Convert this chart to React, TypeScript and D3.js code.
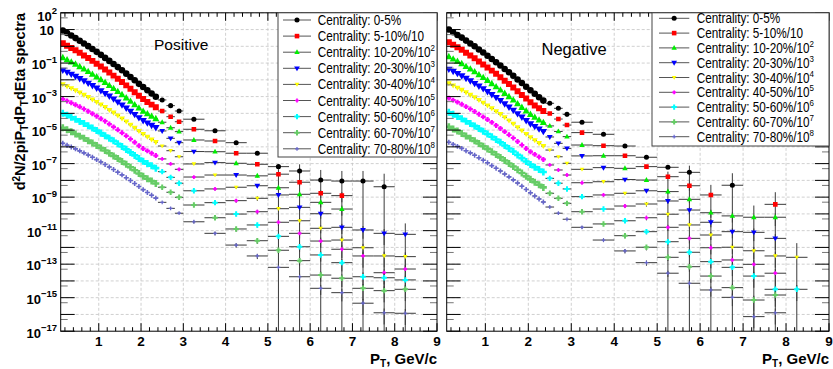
import React from 'react';
import * as d3 from 'd3';

// ---------- data (values stored as log10 of the spectrum) ----------
const ptDense = [0.15, 0.25, 0.35, 0.45, 0.55, 0.65, 0.75, 0.85, 0.95, 1.05, 1.15, 1.25, 1.35, 1.45, 1.55, 1.65, 1.75, 1.85, 1.95, 2.05, 2.15, 2.25, 2.35];
const ptMid = [2.5, 2.7, 2.9];
const ptHigh = [3.25, 3.75, 4.25, 4.75, 5.25, 5.75, 6.25, 6.75, 7.25, 7.75, 8.25];
const binHalfWidth = { dense: 0.05, mid: 0.1, high: 0.25 };

const centralityLabels = ['0-5%', '5-10%/10', '10-20%/10', '20-30%/10', '30-40%/10', '40-50%/10', '50-60%/10', '60-70%/10', '70-80%/10'];
const centralityScaleExp = ['', '', '2', '3', '4', '5', '6', '7', '8'];
const seriesColors = ['#000000', '#ff0000', '#00ee00', '#0000ff', '#ffff00', '#ff00ff', '#00ffff', '#66cc66', '#6666cc'];
const seriesMarkers = ['circle', 'square', 'triUp', 'triDown', 'triDownSmall', 'crossSmall', 'cross', 'cross', 'plusSmall'];

const posDense = [
  [0.94, 0.79, 0.64, 0.49, 0.33, 0.17, 0.01, -0.16, -0.33, -0.51, -0.69, -0.87, -1.05, -1.24, -1.43, -1.63, -1.83, -2.03, -2.24, -2.43, -2.62, -2.82, -3.01],
  [0.18, 0.04, -0.10, -0.24, -0.39, -0.55, -0.70, -0.87, -1.04, -1.21, -1.38, -1.56, -1.75, -1.94, -2.13, -2.33, -2.53, -2.74, -2.95, -3.15, -3.32, -3.48, -3.63],
  [-0.68, -0.81, -0.94, -1.07, -1.22, -1.36, -1.51, -1.67, -1.83, -1.99, -2.16, -2.34, -2.52, -2.70, -2.89, -3.08, -3.28, -3.49, -3.69, -3.88, -4.03, -4.18, -4.32],
  [-1.42, -1.54, -1.66, -1.79, -1.92, -2.06, -2.20, -2.34, -2.49, -2.65, -2.81, -2.97, -3.14, -3.32, -3.50, -3.68, -3.87, -4.06, -4.26, -4.43, -4.57, -4.71, -4.85],
  [-2.27, -2.39, -2.51, -2.63, -2.76, -2.90, -3.03, -3.18, -3.33, -3.48, -3.63, -3.80, -3.96, -4.13, -4.31, -4.49, -4.68, -4.87, -5.06, -5.24, -5.40, -5.56, -5.72],
  [-3.15, -3.26, -3.37, -3.49, -3.61, -3.74, -3.88, -4.02, -4.17, -4.32, -4.47, -4.64, -4.81, -4.98, -5.16, -5.34, -5.53, -5.73, -5.93, -6.10, -6.24, -6.38, -6.52],
  [-4.00, -4.11, -4.23, -4.35, -4.48, -4.61, -4.74, -4.88, -5.03, -5.18, -5.33, -5.48, -5.64, -5.81, -5.98, -6.15, -6.33, -6.51, -6.70, -6.86, -7.00, -7.13, -7.27],
  [-4.86, -4.98, -5.10, -5.23, -5.36, -5.49, -5.63, -5.77, -5.92, -6.07, -6.22, -6.38, -6.54, -6.70, -6.87, -7.04, -7.22, -7.40, -7.59, -7.75, -7.90, -8.04, -8.19],
  [-5.79, -5.90, -6.01, -6.12, -6.24, -6.36, -6.49, -6.62, -6.76, -6.90, -7.05, -7.20, -7.35, -7.51, -7.67, -7.84, -8.01, -8.19, -8.37, -8.55, -8.72, -8.89, -9.06],
];
const posMid = [
  [-3.20, -3.54, -3.86], [-3.86, -4.20, -4.50], [-4.53, -4.86, -5.09], [-5.05, -5.49, -5.75], [-5.95, -6.23, -6.59],
  [-6.72, -7.02, -7.34], [-7.48, -7.82, -8.17], [-8.41, -8.71, -9.01], [-9.31, -9.67, -9.96],
];
const posHigh = [
  [-4.35, -5.04, -5.75, -6.38, -7.18, -7.44, -7.98, -8.04, -8.04, -8.38, null],
  [-4.95, -5.65, -6.38, -7.04, -7.63, -8.11, -8.77, -8.91, null, null, null],
  [-5.59, -6.29, -6.98, -7.73, -8.44, -8.83, -9.31, -9.71, null, null, null],
  [-6.28, -6.94, -7.68, -8.32, -8.87, -9.61, -9.99, -10.80, -10.96, -11.16, -11.22],
  [-7.02, -7.68, -8.41, -9.07, -9.69, -10.41, -10.86, -11.56, -12.02, -12.51, -12.55],
  [-7.80, -8.51, -9.21, -9.87, -10.50, -11.16, -11.62, -12.11, -12.51, -13.51, -13.29],
  [-8.62, -9.33, -10.01, -10.66, -11.34, -11.96, -12.45, -12.91, -13.75, -13.81, -13.94],
  [-9.47, -10.23, -10.90, -11.60, -12.17, -12.79, -13.65, -13.84, -14.44, -14.58, -14.50],
  [-10.47, -11.16, -11.86, -12.51, -13.19, -13.75, -14.44, -14.70, -15.33, -15.90, -15.93],
];
const posHighRelErr = [
  [0.1, 0.1, 0.1, 0.15, 0.2, 1.5, 3, 3, 3, 5, 0],
  [0.1, 0.1, 0.15, 0.2, 1, 0.4, 0.5, 0.6, 0, 0, 0],
  [0.1, 0.1, 0.15, 0.2, 0.3, 0.4, 0.5, 0.6, 0, 0, 0],
  [0.1, 0.15, 0.2, 0.25, 0.3, 0.4, 0.5, 0.6, 0.7, 0.8, 3.5],
  [0.1, 0.15, 0.2, 0.3, 0.3, 0.4, 0.5, 0.6, 0.7, 0.8, 0.8],
  [0.15, 0.2, 0.25, 0.3, 0.4, 0.5, 0.6, 0.7, 0.8, 0.8, 0.8],
  [0.15, 0.2, 0.25, 0.3, 0.4, 0.5, 0.6, 0.7, 0.8, 0.8, 0.8],
  [0.2, 0.25, 0.3, 0.35, 0.4, 0.5, 0.6, 0.7, 0.8, 0.8, 0.8],
  [0.2, 0.25, 0.3, 0.35, 0.4, 0.5, 0.6, 0.7, 0.8, 0.8, 0.8],
];

const negDense = [
  [1.00, 0.84, 0.68, 0.52, 0.34, 0.17, 0.00, -0.19, -0.37, -0.56, -0.76, -0.95, -1.14, -1.35, -1.55, -1.76, -1.98, -2.19, -2.41, -2.62, -2.83, -3.04, -3.24],
  [0.24, 0.09, -0.06, -0.21, -0.38, -0.55, -0.71, -0.90, -1.08, -1.26, -1.45, -1.64, -1.84, -2.05, -2.25, -2.46, -2.68, -2.90, -3.12, -3.34, -3.53, -3.70, -3.86],
  [-0.62, -0.76, -0.90, -1.04, -1.21, -1.36, -1.52, -1.70, -1.87, -2.04, -2.23, -2.42, -2.61, -2.81, -3.01, -3.21, -3.43, -3.65, -3.86, -4.07, -4.24, -4.40, -4.55],
  [-1.36, -1.49, -1.62, -1.76, -1.91, -2.06, -2.21, -2.37, -2.53, -2.70, -2.88, -3.05, -3.23, -3.43, -3.62, -3.81, -4.02, -4.22, -4.43, -4.62, -4.78, -4.93, -5.08],
  [-2.21, -2.34, -2.47, -2.60, -2.75, -2.90, -3.04, -3.21, -3.37, -3.53, -3.70, -3.88, -4.05, -4.24, -4.43, -4.62, -4.83, -5.03, -5.23, -5.43, -5.61, -5.78, -5.95],
  [-3.09, -3.21, -3.33, -3.46, -3.60, -3.74, -3.89, -4.05, -4.21, -4.37, -4.54, -4.72, -4.90, -5.09, -5.28, -5.47, -5.68, -5.89, -6.10, -6.29, -6.45, -6.60, -6.75],
  [-3.94, -4.06, -4.19, -4.32, -4.47, -4.61, -4.75, -4.91, -5.07, -5.23, -5.40, -5.56, -5.73, -5.92, -6.10, -6.28, -6.48, -6.67, -6.87, -7.05, -7.21, -7.35, -7.50],
  [-4.80, -4.93, -5.06, -5.20, -5.35, -5.49, -5.64, -5.80, -5.96, -6.12, -6.29, -6.46, -6.63, -6.81, -6.99, -7.17, -7.37, -7.56, -7.76, -7.94, -8.11, -8.26, -8.42],
  [-5.73, -5.85, -5.97, -6.09, -6.23, -6.36, -6.50, -6.65, -6.80, -6.95, -7.12, -7.28, -7.44, -7.62, -7.79, -7.97, -8.16, -8.35, -8.54, -8.74, -8.93, -9.11, -9.29],
];
const negMid = [
  [-3.40, -3.70, -4.06], [-4.01, -4.34, -4.70], [-4.75, -5.08, -5.39], [-5.41, -5.79, -6.09], [-6.19, -6.59, -6.98],
  [-7.08, -7.38, -7.68], [-7.88, -8.17, -8.51], [-8.77, -9.07, -9.37], [-9.59, -9.96, -10.32],
];
const negHigh = [
  [-4.53, -5.25, -5.95, -6.62, -7.22, -7.52, null, -8.29, null, null, null],
  [-5.15, -5.93, -6.53, -7.18, -7.78, -8.32, -8.87, null, null, -9.43, null],
  [-5.89, -6.53, -7.28, -7.98, -8.67, -9.13, -9.93, -10.12, -10.20, -10.20, null],
  [-6.54, -7.24, -7.95, -8.62, -9.23, -9.77, -10.50, -11.06, -11.10, -11.46, null],
  [-7.34, -8.08, -8.77, -9.41, -10.02, -10.66, -11.26, -11.99, -12.20, -12.51, -12.59],
  [-8.14, -8.87, -9.53, -10.23, -10.80, -11.46, -12.02, -12.75, -13.01, -13.54, null],
  [-8.97, -9.71, -10.41, -11.06, -11.66, -12.29, -12.85, -13.19, -13.71, -14.50, -14.50],
  [-9.87, -10.60, -11.30, -11.99, -12.59, -13.15, -13.71, -14.40, -15.14, -14.84, null],
  [-10.80, -11.56, -12.21, -12.91, -13.54, -14.14, -14.54, -14.98, -16.13, -15.90, null],
];
const negHighRelErr = [
  [0.1, 0.1, 0.1, 0.15, 0.2, 1.5, 0, 4.2, 0, 0, 0],
  [0.1, 0.1, 0.15, 0.2, 1, 0.5, 3, 0, 0, 4.3, 0],
  [0.1, 0.1, 0.15, 0.2, 0.3, 0.4, 0.5, 0.6, 4, 0.7, 0],
  [0.1, 0.15, 0.2, 0.25, 0.3, 0.4, 0.5, 0.6, 0.7, 0.8, 0],
  [0.1, 0.15, 0.2, 0.3, 0.3, 0.4, 0.5, 0.6, 0.7, 0.8, 6],
  [0.15, 0.2, 0.25, 0.3, 0.4, 0.5, 0.6, 0.7, 0.8, 0.8, 0],
  [0.15, 0.2, 0.25, 0.3, 0.4, 0.5, 0.6, 0.7, 0.8, 0.8, 0.8],
  [0.2, 0.25, 0.3, 0.35, 0.4, 0.5, 0.6, 0.7, 0.8, 0.8, 0],
  [0.2, 0.25, 0.3, 0.35, 0.4, 0.5, 0.6, 0.7, 0.8, 0.8, 0],
];
const midRelErr = 0.05;

const xTickValues = [1, 2, 3, 4, 5, 6, 7, 8, 9];
const yLabelExponents = [2, 1, -1, -3, -5, -7, -9, -11, -13, -15, -17];

// ---------- layout ----------
const W = 833;
const H = 369;
const Y_TOP = 12.8;
const Y_BOTTOM = 331.2;
const FONT = '"Liberation Sans", Arial, Helvetica, sans-serif';

const yScale = d3.scaleLog().domain([1e-17, 1e2]).range([Y_BOTTOM, Y_TOP]);

type Pt = { pt: number; lv: number; ex: number; r: number; dense: boolean };

function buildSeries(dense: number[][], mid: number[][], high: (number | null)[][], relErr: number[][], i: number): Pt[] {
  const out: Pt[] = [];
  ptDense.forEach((pt, j) => out.push({ pt, lv: dense[i][j], ex: binHalfWidth.dense, r: 0, dense: true }));
  ptMid.forEach((pt, j) => out.push({ pt, lv: mid[i][j], ex: binHalfWidth.mid, r: midRelErr, dense: false }));
  ptHigh.forEach((pt, j) => {
    const v = high[i][j];
    if (v !== null && v !== undefined) out.push({ pt, lv: v, ex: binHalfWidth.high, r: relErr[i][j], dense: false });
  });
  return out;
}

const crossPath = (s: number, t: number) => {
  const a = s / 2, b = t / 2;
  return `M${-a},${-b}H${-b}V${-a}H${b}V${-b}H${a}V${b}H${b}V${a}H${-b}V${b}H${-a}Z`;
};
const markerPaths: Record<string, string> = {
  circle: d3.symbol().type(d3.symbolCircle).size(20)() as string,
  square: d3.symbol().type(d3.symbolSquare).size(21)() as string,
  triUp: 'M0,-3L2.7,1.9L-2.7,1.9Z',
  triDown: 'M0,3L2.9,-1.9L-2.9,-1.9Z',
  triDownSmall: 'M0,2.3L2.3,-1.6L-2.3,-1.6Z',
  crossSmall: crossPath(3.8, 1.7),
  cross: crossPath(5.4, 2.0),
  plusSmall: crossPath(3.8, 1.2),
};

const ERR_COLOR = '#3a3a3a';

function Panel(props: {
  id: string; left: number; right: number;
  dense: number[][]; mid: number[][]; high: (number | null)[][]; relErr: number[][];
  title: string; titleX: number; titleY: number; titleSize: number;
  legend: { x0: number; y1: number; rowY0: number; rowStep: number; lineX0: number; lineX1: number; textX: number };
  showYLabels: boolean;
}) {
  const { id, left, right, legend } = props;
  const x = d3.scaleLinear().domain([0.1, 9]).range([left, right]);
  const decades = d3.range(-17, 3);
  const minorX = d3.range(2, 90, 2).map((v) => v / 10).filter((v) => v % 1 !== 0);
  const series = seriesColors.map((_, i) => buildSeries(props.dense, props.mid, props.high, props.relErr, i));

  return (
    <g>
      <defs>
        <clipPath id={`clip-${id}`}>
          <rect x={left} y={Y_TOP} width={right - left} height={Y_BOTTOM - Y_TOP} />
        </clipPath>
      </defs>
      <rect x={left} y={Y_TOP} width={right - left} height={Y_BOTTOM - Y_TOP} fill="#fff" />
      {/* grid */}
      <g stroke="#c4c4c4" strokeWidth={0.8} strokeDasharray="3,2">
        {xTickValues.slice(0, 8).map((t) => (
          <line key={`gx${t}`} x1={x(t)} x2={x(t)} y1={Y_TOP} y2={Y_BOTTOM} />
        ))}
        {decades.slice(1).map((e) => (
          <line key={`gy${e}`} x1={left} x2={right} y1={yScale(10 ** e)} y2={yScale(10 ** e)} />
        ))}
      </g>
      {/* data */}
      <g clipPath={`url(#clip-${id})`}>
        {series.map((pts, i) => (
          <g key={`s${i}`}>
            <g stroke={ERR_COLOR} strokeWidth={1}>
              {pts.map((p, j) => {
                const v = 10 ** p.lv;
                const cy = yScale(v);
                const els = [
                  <line key={`h${j}`} x1={x(p.pt - p.ex)} x2={x(p.pt + p.ex)} y1={cy} y2={cy} />,
                ];
                if (p.r > 0) {
                  const yUp = yScale(v * (1 + p.r));
                  const yLo = p.r >= 1 ? Y_BOTTOM : yScale(v * (1 - p.r));
                  els.push(<line key={`v${j}`} x1={x(p.pt)} x2={x(p.pt)} y1={yUp} y2={yLo} />);
                }
                return els;
              })}
            </g>
            <g fill={seriesColors[i]}>
              {pts.map((p, j) => (
                <path
                  key={`m${j}`}
                  d={markerPaths[seriesMarkers[i]]}
                  transform={`translate(${x(p.pt)},${yScale(10 ** p.lv)})${p.dense ? ' scale(1.3)' : ''}`}
                />
              ))}
            </g>
          </g>
        ))}
      </g>
      {/* ticks */}
      <g stroke="#000" strokeWidth={1}>
        {xTickValues.map((t) => (
          <g key={`tx${t}`}>
            <line x1={x(t)} x2={x(t)} y1={Y_BOTTOM} y2={Y_BOTTOM - 8} />
            <line x1={x(t)} x2={x(t)} y1={Y_TOP} y2={Y_TOP + 8} />
          </g>
        ))}
        {minorX.map((t) => (
          <g key={`mx${t}`}>
            <line x1={x(t)} x2={x(t)} y1={Y_BOTTOM} y2={Y_BOTTOM - 4} />
            <line x1={x(t)} x2={x(t)} y1={Y_TOP} y2={Y_TOP + 4} />
          </g>
        ))}
        {decades.map((e) => (
          <g key={`ty${e}`}>
            <line x1={left} x2={left + 14} y1={yScale(10 ** e)} y2={yScale(10 ** e)} />
            <line x1={right} x2={right - 14} y1={yScale(10 ** e)} y2={yScale(10 ** e)} />
          </g>
        ))}
        {decades.slice(1).map((e) => (
          <g key={`my${e}`} stroke="#777">
            <line x1={left} x2={left + 7} y1={yScale(5 * 10 ** (e - 1))} y2={yScale(5 * 10 ** (e - 1))} />
            <line x1={right} x2={right - 7} y1={yScale(5 * 10 ** (e - 1))} y2={yScale(5 * 10 ** (e - 1))} />
          </g>
        ))}
      </g>
      <rect x={left} y={Y_TOP} width={right - left} height={Y_BOTTOM - Y_TOP} fill="none" stroke="#000" strokeWidth={1} />
      {/* x tick labels */}
      <g fontFamily={FONT} fontSize={13.5} fontWeight="bold" textAnchor="middle" fill="#000">
        {xTickValues.map((t) => (
          <text key={`lx${t}`} x={x(t)} y={346}>{t}</text>
        ))}
      </g>
      {/* y tick labels */}
      {props.showYLabels && (
        <g fontFamily={FONT} fontSize={13} fontWeight="bold" textAnchor="end" fill="#000">
          {yLabelExponents.map((e) => {
            const ty = yScale(10 ** e);
            if (e === 1) return <text key={`ly${e}`} x={54} y={ty + 5.8}>10</text>;
            const base = e === 2 ? ty + 8 : ty + 6.3;
            return (
              <text key={`ly${e}`} x={57} y={base}>
                10<tspan dy={-6.5} fontSize={9.5}>{e < 0 ? `\u2212${-e}` : `${e}`}</tspan>
              </text>
            );
          })}
        </g>
      )}
      {/* x axis title */}
      <text x={right} y={364} textAnchor="end" fontFamily={FONT} fontWeight="bold" fontSize={15} fill="#000">
        P<tspan dy={3} fontSize={10}>T</tspan><tspan dy={-3}>, GeV/c</tspan>
      </text>
      {/* panel title */}
      <text x={props.titleX} y={props.titleY} fontFamily={FONT} fontSize={props.titleSize} fill="#000">{props.title}</text>
      {/* legend */}
      <rect x={legend.x0} y={Y_TOP} width={right - legend.x0} height={legend.y1 - Y_TOP} fill="#fff" stroke="#444" strokeWidth={1} />
      {centralityLabels.map((lab, i) => {
        const cy = legend.rowY0 + i * legend.rowStep;
        return (
          <g key={`lg${i}`}>
            <line x1={legend.lineX0} x2={legend.lineX1} y1={cy} y2={cy} stroke="#555" strokeWidth={1} />
            <path d={markerPaths[seriesMarkers[i]]} fill={seriesColors[i]} transform={`translate(${(legend.lineX0 + legend.lineX1) / 2},${cy})`} />
            <g transform={`translate(${legend.textX},${cy + 5}) scale(0.84,1)`}>
              <text x={0} y={0} fontFamily={FONT} fontSize={14} fill="#000">
                {`Centrality: ${lab}`}
                {centralityScaleExp[i] && <tspan dy={-6} fontSize={9.5}>{centralityScaleExp[i]}</tspan>}
              </text>
            </g>
          </g>
        );
      })}
    </g>
  );
}

export default function App() {
  return (
    <svg width={W} height={H} style={{ position: 'absolute', left: 0, top: 0, background: '#fff' }}>
      <rect x={0} y={0} width={W} height={H} fill="#fff" />
      <Panel
        id="pos" left={60.7} right={437}
        dense={posDense} mid={posMid} high={posHigh} relErr={posHighRelErr}
        title="Positive" titleX={154} titleY={49.5} titleSize={15.5}
        legend={{ x0: 278, y1: 157, rowY0: 20, rowStep: 16.1, lineX0: 283, lineX1: 311, textX: 317.7 }}
        showYLabels={true}
      />
      <Panel
        id="neg" left={446.7} right={829}
        dense={negDense} mid={negMid} high={negHigh} relErr={negHighRelErr}
        title="Negative" titleX={541.5} titleY={55} titleSize={16.5}
        legend={{ x0: 652, y1: 146, rowY0: 18.3, rowStep: 14.8, lineX0: 659, lineX1: 689.3, textX: 696.7 }}
        showYLabels={false}
      />
      <text transform="translate(25,13) rotate(-90)" textAnchor="end" fontFamily={FONT} fontWeight="bold" fontSize={14.5} fill="#000">
        d<tspan dy={-5} fontSize={10}>2</tspan>
        <tspan dy={5}>N/2piP</tspan>
        <tspan dy={3} fontSize={10}>T</tspan>
        <tspan dy={-3}>dP</tspan>
        <tspan dy={3} fontSize={10}>T</tspan>
        <tspan dy={-3}>dEta spectra</tspan>
      </text>
    </svg>
  );
}
